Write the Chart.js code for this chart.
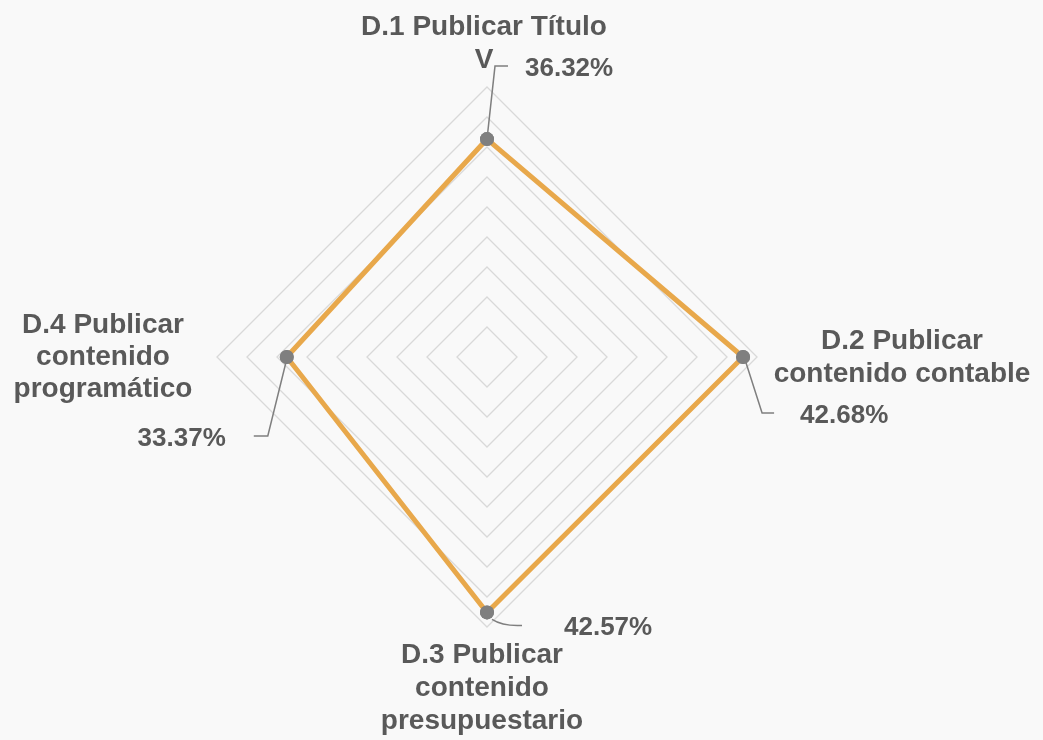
<!DOCTYPE html>
<html>
<head>
<meta charset="utf-8">
<script src="https://cdn.jsdelivr.net/npm/chart.js@4"></script>
<style>
  html, body { margin: 0; padding: 0; background: #f9f9f9; }
  #wrap { width: 1043px; height: 740px; position: relative; }
</style>
</head>
<body>
<div id="wrap"><canvas id="radar-chart"></canvas></div>
<script>
const categories = [
  ['D.1 Publicar Título', 'V'],
  ['D.2 Publicar', 'contenido contable'],
  ['D.3 Publicar', 'contenido', 'presupuestario'],
  ['D.4 Publicar', 'contenido', 'programático'],
];
const values = [36.32, 42.68, 42.57, 33.37];
const valueLabels = ['36.32%', '42.68%', '42.57%', '33.37%'];

const textColor = '#595959';
const leaderColor = '#7f7f7f';

// offsets of category text from the outer ring corner: [dx, first baseline dy, line step]
const catLayout = [
  { dx: -3, dy: -52, step: 33 },
  { dx: 145, dy: -8, step: 33 },
  { dx: -5, dy: 36, step: 33 },
  { dx: -114, dy: -24, step: 32 },
];

// value label & leader line offsets from each data point
const valLayout = [
  { tx: 38, ty: -63, align: 'left', path: [[0, 0], [8, -73], [21, -73]] },
  { tx: 57, ty: 66, align: 'left', path: [[3, 6], [19, 56], [31, 56]] },
  { tx: 77, ty: 23, align: 'left', curve: true, path: [[5, 7], [16, 14], [35, 13]] },
  { tx: -61, ty: 89, align: 'right', path: [[-1, 6], [-19, 79], [-33, 79]] },
];

const labelPlugin = {
  id: 'radarLabels',
  afterDatasetsDraw(chart) {
    const ctx = chart.ctx;
    const scale = chart.scales.r;
    const meta = chart.getDatasetMeta(0);
    ctx.save();

    // leader lines
    ctx.strokeStyle = leaderColor;
    ctx.lineWidth = 1.5;
    meta.data.forEach((pt, i) => {
      const l = valLayout[i];
      const p = l.path;
      ctx.beginPath();
      ctx.moveTo(pt.x + p[0][0], pt.y + p[0][1]);
      if (l.curve) {
        ctx.quadraticCurveTo(pt.x + p[1][0], pt.y + p[1][1], pt.x + p[2][0], pt.y + p[2][1]);
      } else {
        ctx.lineTo(pt.x + p[1][0], pt.y + p[1][1]);
        ctx.lineTo(pt.x + p[2][0], pt.y + p[2][1]);
      }
      ctx.stroke();
    });

    // redraw points above leader lines
    meta.data.forEach((pt) => {
      ctx.fillStyle = leaderColor;
      ctx.beginPath();
      ctx.arc(pt.x, pt.y, 7, 0, Math.PI * 2);
      ctx.fill();
    });

    // value labels
    ctx.fillStyle = textColor;
    ctx.font = 'bold 26px "Liberation Sans", Arial, sans-serif';
    ctx.textBaseline = 'alphabetic';
    meta.data.forEach((pt, i) => {
      const l = valLayout[i];
      ctx.textAlign = l.align;
      ctx.fillText(valueLabels[i], pt.x + l.tx, pt.y + l.ty);
    });

    // category labels
    ctx.font = 'bold 28px "Liberation Sans", Arial, sans-serif';
    ctx.textAlign = 'center';
    categories.forEach((lines, i) => {
      const corner = scale.getPointPosition(i, scale.drawingArea);
      const l = catLayout[i];
      lines.forEach((line, j) => {
        ctx.fillText(line, corner.x + l.dx, corner.y + l.dy + j * l.step);
      });
    });
    ctx.restore();
  },
};

const ctx = document.getElementById('radar-chart').getContext('2d');
new Chart(ctx, {
  type: 'radar',
  data: {
    labels: categories.map((c) => c.join(' ')),
    datasets: [
      {
        label: 'Avance',
        data: values,
        borderColor: '#e8a84b',
        borderWidth: 5,
        backgroundColor: 'transparent',
        fill: false,
        pointRadius: 7,
        pointBackgroundColor: leaderColor,
        pointBorderColor: leaderColor,
        pointBorderWidth: 0,
      },
    ],
  },
  options: {
    responsive: true,
    maintainAspectRatio: false,
    animation: false,
    layout: {
      padding: { left: 217, right: 286, top: 87, bottom: 113 },
    },
    elements: { line: { tension: 0 } },
    scales: {
      r: {
        min: 0,
        max: 45,
        ticks: { stepSize: 5, display: false },
        grid: { color: '#d9d9d9', lineWidth: 1.3 },
        angleLines: { display: false },
        pointLabels: { display: false },
      },
    },
    plugins: {
      legend: { display: false },
      tooltip: { enabled: false },
    },
  },
  plugins: [labelPlugin],
});
</script>
</body>
</html>
